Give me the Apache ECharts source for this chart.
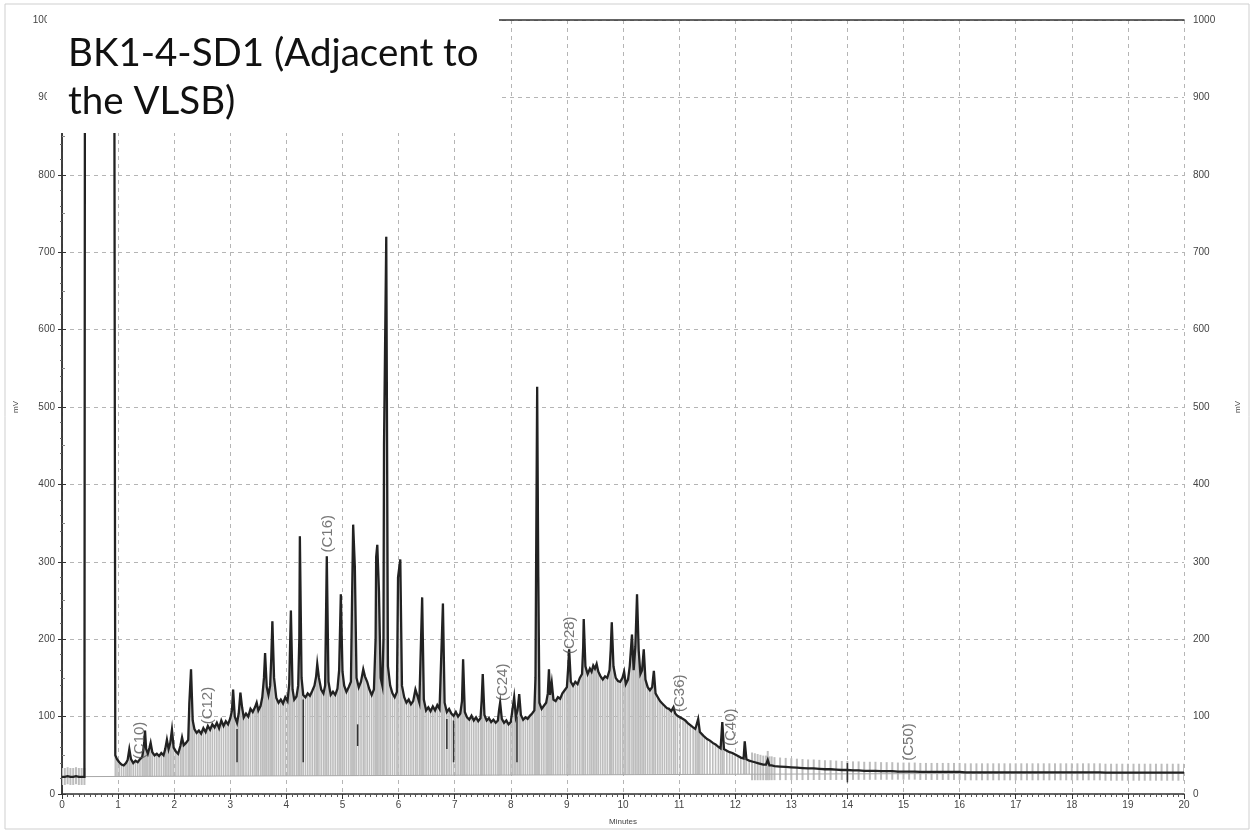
<!DOCTYPE html>
<html>
<head>
<meta charset="utf-8">
<script src="https://cdn.jsdelivr.net/npm/echarts@6/dist/echarts.min.js"></script>
<style>
  html, body { margin: 0; padding: 0; background: #ffffff; }
  #chart { width: 1253px; height: 831px; }
</style>
</head>
<body>
<div id="chart"></div>
<script>
// Sample heading
const titleLines = ['BK1-4-SD1 (Adjacent to', 'the VLSB)'];

// Detector signal: [retention time (min), response (mV)]
const signal = [
  [0,22],[0.05,22],[0.1,23],[0.15,22],[0.2,22],[0.25,23],[0.3,22],[0.35,22],[0.4,22],
  [0.41,1100],[0.93,1100],
  [0.95,50],[0.98,45],[1.02,41],[1.06,38],[1.1,37],[1.14,40],[1.17,44],[1.2,58],[1.23,45],
  [1.27,40],[1.31,43],[1.35,41],[1.39,45],[1.43,48],[1.46,62],[1.48,82],[1.5,58],[1.53,52],
  [1.56,60],[1.58,66],[1.61,54],[1.65,50],[1.69,52],[1.73,49],[1.77,53],[1.81,50],[1.84,58],
  [1.87,70],[1.9,58],[1.93,66],[1.96,83],[1.99,60],[2.03,55],[2.07,52],[2.11,62],[2.14,73],
  [2.17,63],[2.21,66],[2.25,70],[2.27,118],[2.3,161],[2.33,95],[2.36,84],[2.4,79],[2.44,82],
  [2.48,78],[2.52,85],[2.56,80],[2.6,88],[2.64,83],[2.68,90],[2.72,86],[2.76,92],[2.8,85],
  [2.84,95],[2.88,88],[2.92,94],[2.96,90],[3.0,98],[3.03,108],[3.05,135],[3.08,100],[3.12,92],
  [3.15,104],[3.18,131],[3.21,112],[3.24,99],[3.28,104],[3.32,100],[3.36,110],[3.4,106],
  [3.44,112],[3.47,118],[3.5,108],[3.54,114],[3.57,125],[3.6,150],[3.62,182],[3.65,138],
  [3.68,128],[3.71,140],[3.73,175],[3.75,223],[3.78,150],[3.82,124],[3.86,118],[3.9,122],
  [3.94,117],[3.98,125],[4.02,120],[4.05,142],[4.08,237],[4.11,135],[4.14,122],[4.18,126],
  [4.21,140],[4.23,200],[4.24,333],[4.27,150],[4.3,128],[4.34,125],[4.38,130],[4.42,127],
  [4.46,133],[4.5,140],[4.53,152],[4.55,168],[4.58,150],[4.62,135],[4.66,130],[4.69,140],
  [4.72,307],[4.75,145],[4.79,128],[4.83,132],[4.87,128],[4.91,136],[4.94,160],[4.97,258],
  [5.0,158],[5.03,140],[5.07,132],[5.11,138],[5.15,145],[5.17,250],[5.19,348],[5.22,294],
  [5.25,150],[5.29,138],[5.33,145],[5.37,161],[5.4,152],[5.44,145],[5.48,135],[5.52,128],
  [5.56,135],[5.59,200],[5.6,306],[5.62,322],[5.65,262],[5.68,150],[5.71,140],[5.73,200],
  [5.74,451],[5.78,720],[5.81,165],[5.85,140],[5.89,130],[5.93,125],[5.97,132],[5.99,280],
  [6.03,303],[6.06,140],[6.1,125],[6.14,118],[6.18,122],[6.22,116],[6.26,120],[6.3,135],
  [6.33,128],[6.37,118],[6.4,200],[6.42,254],[6.45,122],[6.49,108],[6.53,112],[6.57,107],
  [6.61,113],[6.65,108],[6.69,115],[6.73,110],[6.77,200],[6.79,246],[6.82,118],[6.86,106],
  [6.9,110],[6.94,104],[6.98,101],[7.02,106],[7.06,100],[7.1,104],[7.13,120],[7.15,174],
  [7.18,106],[7.22,99],[7.26,96],[7.3,101],[7.34,95],[7.38,99],[7.42,94],[7.46,98],[7.48,120],
  [7.5,155],[7.53,102],[7.57,95],[7.61,98],[7.65,93],[7.69,96],[7.73,92],[7.77,95],[7.79,108],
  [7.81,118],[7.84,97],[7.88,92],[7.92,95],[7.96,90],[8.0,93],[8.03,95],[8.06,125],[8.09,100],
  [8.12,108],[8.15,129],[8.18,102],[8.22,96],[8.26,99],[8.3,97],[8.34,101],[8.38,104],
  [8.42,108],[8.44,150],[8.45,281],[8.47,526],[8.49,280],[8.51,118],[8.55,110],[8.59,114],
  [8.63,118],[8.66,130],[8.68,161],[8.7,128],[8.73,144],[8.76,122],[8.8,120],[8.84,125],
  [8.88,123],[8.92,130],[8.96,134],[9.0,138],[9.02,160],[9.04,187],[9.07,145],[9.11,140],
  [9.15,145],[9.19,142],[9.23,150],[9.27,155],[9.29,190],[9.3,226],[9.33,165],[9.37,155],
  [9.41,162],[9.44,158],[9.47,166],[9.5,162],[9.53,168],[9.56,158],[9.6,152],[9.64,148],
  [9.68,152],[9.72,150],[9.76,160],[9.78,185],[9.8,222],[9.83,165],[9.87,150],[9.91,146],
  [9.95,145],[9.99,150],[10.02,158],[10.05,142],[10.09,148],[10.12,165],[10.16,206],[10.19,160],
  [10.22,190],[10.25,258],[10.28,185],[10.31,155],[10.34,160],[10.37,187],[10.4,148],[10.44,138],
  [10.48,134],[10.52,138],[10.55,159],[10.58,130],[10.62,125],[10.66,120],[10.7,117],[10.74,114],
  [10.78,111],[10.82,110],[10.86,107],[10.9,112],[10.93,104],[10.97,101],[11.02,99],[11.07,97],
  [11.11,95],[11.15,92],[11.2,89],[11.25,86],[11.29,84],[11.32,82],[11.34,97],[11.37,80],
  [11.41,77],[11.45,74],[11.5,71],[11.55,69],[11.6,66],[11.65,64],[11.7,61],[11.74,59],
  [11.77,93],[11.8,58],[11.85,56],[11.9,54],[11.95,53],[12.0,51],[12.05,49],[12.1,47],
  [12.15,46],[12.17,68],[12.2,45],[12.25,43],[12.3,42],[12.35,41],[12.4,40],[12.45,39],
  [12.5,38],[12.55,38],[12.58,44],[12.61,37],[12.65,37],[12.7,36],[12.8,35.5],[12.9,35],
  [13.0,34.5],[13.1,34],[13.2,33.5],[13.3,33],[13.4,33],[13.5,32.5],[13.6,32],[13.7,32],
  [13.8,31.5],[13.9,31],[14.0,31],[14.1,30.5],[14.2,30.5],[14.3,30],[14.4,30],[14.5,30],
  [14.6,29.5],[14.7,29.5],[14.8,29.5],[14.9,29],[15.0,29],[15.1,29],[15.2,29],[15.3,28.5],
  [15.4,28.5],[15.5,28.5],[15.6,28.5],[15.7,28.5],[15.8,28.5],[15.9,28.5],[16.0,28.5],
  [16.1,28],[16.2,28],[16.3,28],[16.4,28],[16.5,28],[16.6,28],[16.7,28],[16.8,28],[16.9,28],
  [17.0,28],[17.1,28],[17.2,28],[17.3,28],[17.4,28],[17.5,28],[17.6,28],[17.7,28],[17.8,28],
  [17.9,28],[18.0,28],[18.1,28],[18.2,28],[18.3,28],[18.4,28],[18.5,28],[18.6,27.5],
  [18.7,27.5],[18.8,27.5],[18.9,27.5],[19.0,27.5],[19.1,27.5],[19.2,27.5],[19.3,27.5],
  [19.4,27.5],[19.5,27.5],[19.6,27.5],[19.7,27.5],[19.8,27.5],[19.9,27.5],[20.0,27.5]
];

// Integration baseline end points: [min, mV]
const integrationBaseline = [[0.4, 22.5], [20, 27.5]];

// Peak separators: [min, low mV, high mV]
const dropLines = [
  [3.12, 41, 84], [4.3, 41, 122], [5.27, 62, 90], [6.86, 58, 97],
  [6.98, 41, 95], [8.11, 41, 100], [14.0, 15, 40]
];

// n-alkane markers
const peakNames  = ['(C10)', '(C12)', '(C16)', '(C24)', '(C28)', '(C36)', '(C40)', '(C50)'];
const peakTimes  = [1.39, 2.6, 4.74, 7.86, 9.06, 11.02, 11.93, 15.1];
const peakLevels = [45, 90, 312, 120, 181, 106, 62, 43];

function baselineAt(t) {
  const a = integrationBaseline[0], b = integrationBaseline[1];
  if (t <= a[0]) return a[1];
  return a[1] + (b[1] - a[1]) * (t - a[0]) / (b[0] - a[0]);
}

const chart = echarts.init(document.getElementById('chart'), null, { renderer: 'canvas' });

const axisFont = 'Liberation Sans, Arial, sans-serif';
const axisLabelStyle = { color: '#444', fontSize: 10, fontFamily: axisFont, formatter: v => String(v) };
const gridLine = { show: true, lineStyle: { color: '#b5b5b5', type: [4, 4], width: 1 } };

chart.setOption({
  animation: false,
  backgroundColor: '#ffffff',
  grid: { left: 62, right: 69, top: 20, bottom: 36, containLabel: false },
  xAxis: [{
    type: 'value', min: 0, max: 20, interval: 1,
    name: 'Minutes', nameLocation: 'middle', nameGap: 24,
    nameTextStyle: { color: '#444', fontSize: 8, fontFamily: axisFont },
    axisLine: { show: true, lineStyle: { color: '#333', width: 1.5 } },
    axisTick: { show: true, length: 5, lineStyle: { color: '#333' } },
    minorTick: { show: true, splitNumber: 10, length: 3, lineStyle: { color: '#555' } },
    axisLabel: Object.assign({ margin: 6 }, axisLabelStyle),
    splitLine: gridLine
  }, {
    type: 'value', min: 0, max: 20, position: 'top',
    axisLine: { show: true, onZero: false, lineStyle: { color: '#333', width: 1.5 } },
    axisTick: { show: false }, axisLabel: { show: false }, splitLine: { show: false }
  }],
  yAxis: [{
    type: 'value', min: 0, max: 1000, interval: 100, position: 'left',
    name: 'mV', nameLocation: 'middle', nameGap: 42, nameRotate: 90,
    nameTextStyle: { color: '#444', fontSize: 8, fontFamily: axisFont },
    axisLine: { show: true, lineStyle: { color: '#333', width: 1.5 } },
    axisTick: { show: true, length: 4, lineStyle: { color: '#333' } },
    minorTick: { show: true, splitNumber: 5, length: 2, lineStyle: { color: '#666' } },
    axisLabel: Object.assign({ margin: 7 }, axisLabelStyle),
    splitLine: gridLine
  }, {
    type: 'value', min: 0, max: 1000, interval: 100, position: 'right',
    name: 'mV', nameLocation: 'middle', nameGap: 50, nameRotate: 90,
    nameTextStyle: { color: '#444', fontSize: 8, fontFamily: axisFont },
    axisLine: { show: true, lineStyle: { color: '#333', width: 1.5 } },
    axisTick: { show: true, length: 4, lineStyle: { color: '#333' } },
    minorTick: { show: true, splitNumber: 2, length: 3, lineStyle: { color: '#888' } },
    axisLabel: Object.assign({ margin: 9 }, axisLabelStyle),
    splitLine: { show: false }
  }],
  series: [
    {
      // area slices between the integration baseline and the signal
      type: 'custom',
      clip: true,
      z: 1,
      data: signal,
      encode: { x: 0, y: 1 },
      renderItem: function (params, api) {
        const t = api.value(0), v = api.value(1);
        if (v > 900) return { type: 'group', children: [] };
        const p = api.coord([t, v]);
        const b = api.coord([t, baselineAt(t)]);
        let y1 = p[1], y2 = b[1], w = 1.6;
        if (t < 0.45 || t >= 12.3) {
          y1 = p[1] - 9;
          y2 = Math.max(b[1] + 6, p[1] + 8);
          w = 2;
        }
        return {
          type: 'line',
          shape: { x1: p[0], y1: y1, x2: p[0], y2: y2 },
          style: { stroke: '#bdbdbd', lineWidth: w }
        };
      }
    },
    {
      type: 'line',
      z: 2,
      data: integrationBaseline,
      showSymbol: false,
      lineStyle: { color: '#a8a8a8', width: 1 },
      silent: true
    },
    {
      type: 'custom',
      clip: true,
      z: 3,
      data: dropLines,
      encode: { x: 0, y: [1, 2] },
      renderItem: function (params, api) {
        const lo = api.coord([api.value(0), api.value(1)]);
        const hi = api.coord([api.value(0), api.value(2)]);
        return {
          type: 'line',
          shape: { x1: lo[0], y1: lo[1], x2: hi[0], y2: hi[1] },
          style: { stroke: '#333', lineWidth: 1.5 }
        };
      }
    },
    {
      type: 'line',
      z: 4,
      data: signal,
      showSymbol: false,
      sampling: null,
      clip: true,
      lineStyle: { color: '#222', width: 2.3, join: 'miter' },
      silent: true
    },
    {
      type: 'scatter',
      z: 5,
      symbolSize: 0,
      data: peakTimes.map((t, i) => ({ value: [t, peakLevels[i]], name: peakNames[i] })),
      label: {
        show: true,
        formatter: '{b}',
        position: 'inside',
        rotate: 90,
        align: 'left',
        verticalAlign: 'middle',
        color: '#555',
        fontSize: 15,
        fontFamily: axisFont
      },
      silent: true
    }
  ],
  graphic: [
    {
      type: 'rect', z: 100, silent: true,
      shape: { x: 5, y: 4, width: 1244, height: 825 },
      style: { fill: 'none', stroke: '#cfcfcf', lineWidth: 1 }
    },
    {
      type: 'rect', z: 100, silent: true,
      shape: { x: 47, y: 8, width: 452, height: 125 },
      style: { fill: '#ffffff' }
    },
    {
      type: 'text', z: 101, silent: true, left: 68, top: 34,
      style: { text: titleLines[0], fill: '#111', font: '38.5px Lato, "Open Sans", sans-serif' }
    },
    {
      type: 'text', z: 101, silent: true, left: 68, top: 82,
      style: { text: titleLines[1], fill: '#111', font: '38.5px Lato, "Open Sans", sans-serif' }
    }
  ]
});
</script>
</body>
</html>
